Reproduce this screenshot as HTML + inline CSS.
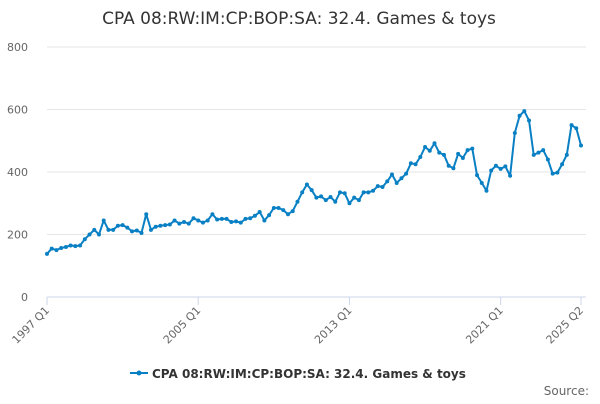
<!DOCTYPE html>
<html><head><meta charset="utf-8"><style>
body{margin:0;background:#fff;font-family:"DejaVu Sans",sans-serif}
svg text{font-family:"DejaVu Sans",sans-serif}
</style></head><body>
<svg id="c" width="600" height="400" xmlns="http://www.w3.org/2000/svg"></svg>
<script>
const categoriesFirstYear = 1997;
const tickLabels = ["1997 Q1","2005 Q1","2013 Q1","2021 Q1","2025 Q2"];
const tickIndices = [0,32,64,96,113];
const yTicks = [0,200,400,600,800];
const seriesValues = [138,155,150,157,160,165,163,165,185,200,215,200,245,215,215,228,230,222,210,213,205,265,215,225,228,230,232,245,235,240,235,252,245,238,245,265,248,250,250,240,242,238,250,252,260,272,245,262,285,285,278,265,275,305,335,360,342,318,322,310,320,305,335,332,300,318,310,335,335,340,355,352,370,392,365,380,395,428,425,448,480,468,492,462,455,420,412,458,
445,470,475,390,365,340,405,420,410,418,388,525,580,595,565,455,462,470,440,395,398,425,455,550,540,485];
const NS="http://www.w3.org/2000/svg", svg=document.getElementById('c');
const x0=47,x1=581,yb=297,yt=47;
const xs=i=>x0+(x1-x0)*i/(seriesValues.length-1);
const ys=v=>yb-(yb-yt)*v/800;
function mk(t,a,p){const e=document.createElementNS(NS,t);for(const k in a)e.setAttribute(k,a[k]);(p||svg).appendChild(e);return e;}
let t=mk('text',{x:299,y:24,'text-anchor':'middle','font-size':17,fill:'#333'});

t.textContent="CPA 08:RW:IM:CP:BOP:SA: 32.4. Games & toys";
yTicks.forEach(v=>{
 if(v>0){const g=mk('line',{x1:x0,x2:x1+5,y1:ys(v),y2:ys(v),stroke:'#e6e6e6'});
 }
 const l=mk('text',{x:28,y:ys(v)+4,'text-anchor':'end','font-size':11,fill:'#666'});
 
 l.textContent=v;
});
const ax=mk('line',{x1:x0,x2:x1+5,y1:yb,y2:yb,stroke:'#ccd6eb'});

tickIndices.forEach((ix,k)=>{
 const x=xs(ix);
 const tk=mk('line',{x1:x,x2:x,y1:yb,y2:yb+8,stroke:'#ccd6eb'});
 
 const l=mk('text',{x:x+3,y:yb+14,'text-anchor':'end','font-size':11,fill:'#666',transform:`rotate(-45 ${x+3} ${yb+14})`});
 
 l.textContent=tickLabels[k];
});
const pts=seriesValues.map((v,i)=>xs(i).toFixed(1)+','+ys(v).toFixed(1)).join(' ');
const pl=mk('polyline',{points:pts,fill:'none',stroke:'#0a80c4','stroke-width':2,'stroke-linejoin':'round'});

seriesValues.forEach((v,i)=>{const c=mk('circle',{cx:xs(i),cy:ys(v),r:2,fill:'#0a80c4'});
 });
const lg=mk('g',{});
mk('line',{x1:130,x2:148,y1:373,y2:373,stroke:'#0a80c4','stroke-width':2},lg);
mk('circle',{cx:139,cy:373,r:2.5,fill:'#0a80c4'},lg);
const lt=mk('text',{x:152,y:378,'font-size':12,'font-weight':'bold',fill:'#333'},lg);
lt.textContent="CPA 08:RW:IM:CP:BOP:SA: 32.4. Games & toys";
const s=mk('text',{x:589,y:395,'text-anchor':'end','font-size':12,fill:'#666'});

s.textContent="Source:";
</script>
</body></html>
